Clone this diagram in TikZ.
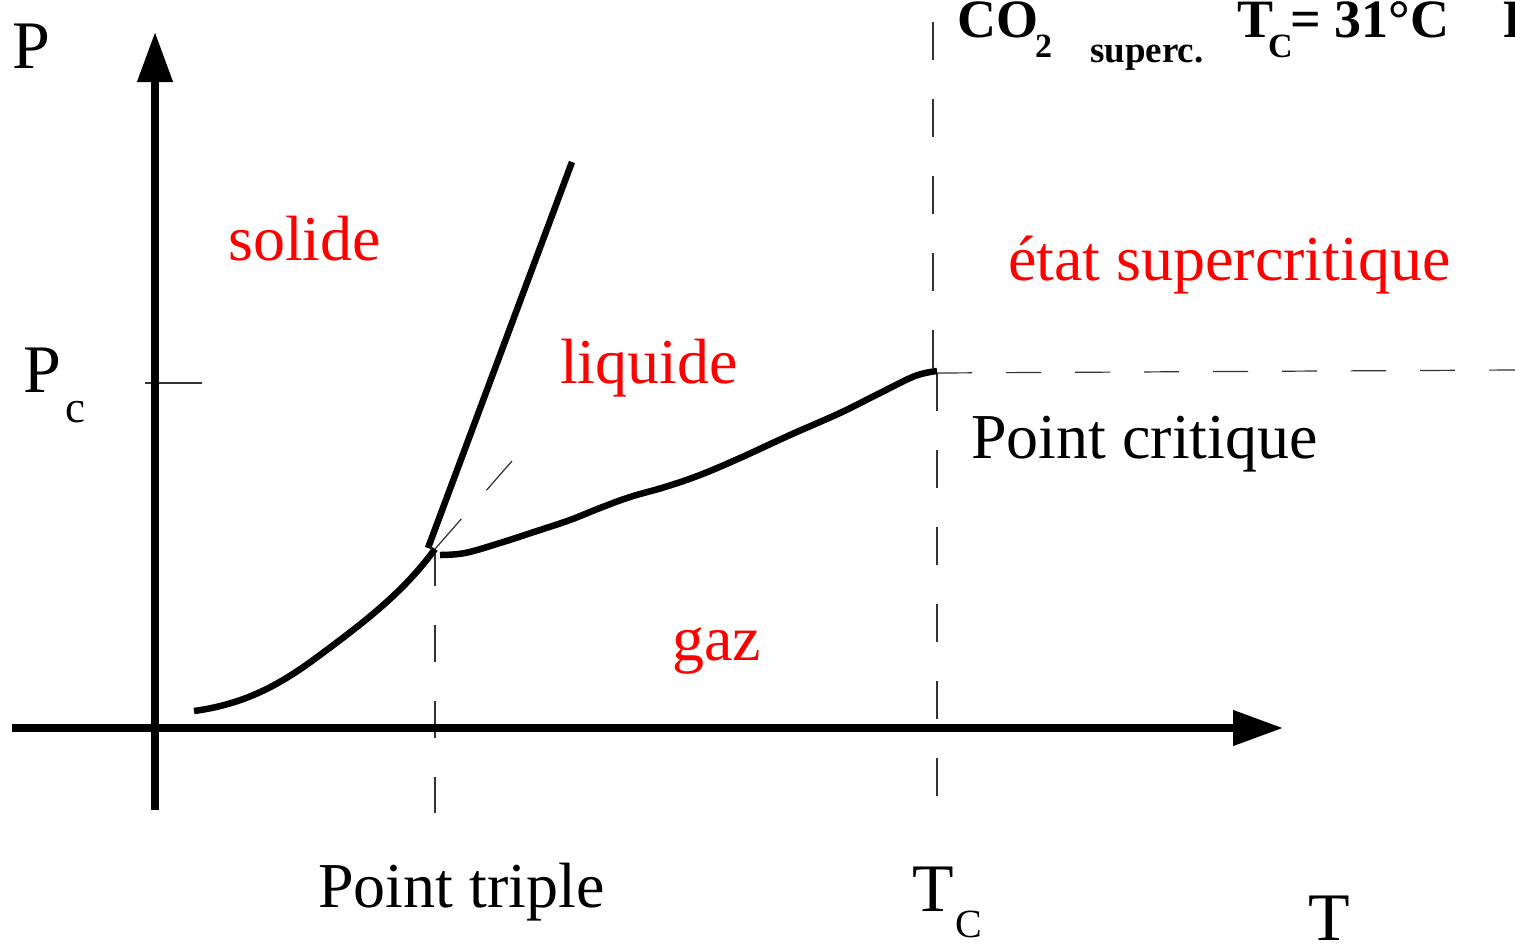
\documentclass[tikz,border=0pt]{standalone}
\usepackage{fontspec}
\setmainfont{Liberation Serif}
\usetikzlibrary{arrows.meta}
\begin{document}
\begin{tikzpicture}[x=1pt,y=-1pt,
  axis/.style={line width=7.5pt,-{Triangle[length=50pt,width=34pt]}},
  phase/.style={line width=6.5pt,line join=round},
  guide/.style={line width=1.2pt,black!80},
  lbl/.style={inner sep=0pt,anchor=base west,font=\fontsize{64}{64}\selectfont},
  big/.style={inner sep=0pt,anchor=base west,font=\fontsize{68}{68}\selectfont},
  region/.style={lbl,text=red},
  ttl/.style={inner sep=0pt,anchor=base west,font=\bfseries\fontsize{54}{54}\selectfont},
  ttlsub/.style={inner sep=0pt,anchor=base west,font=\bfseries\fontsize{34}{34}\selectfont},
]
\useasboundingbox (0,0) rectangle (1515,946);
\clip (0,0) rectangle (1515,946);
% key points
\coordinate (TP) at (435,549);
\coordinate (CP) at (937,371);
\coordinate (yB) at (155,810);
\coordinate (yT) at (155,32);
\coordinate (xL) at (12,728);
\coordinate (xR) at (1283,728);
% guide lines
\draw[guide,dash pattern=on 40pt off 38pt] (TP) -- (512,461);
\draw[guide,dash pattern=on 37pt off 39pt] (TP) -- (435,813);
\draw[guide,dash pattern=on 38pt off 39pt] (933,22) -- (933,370);
\draw[guide,dash pattern=on 38pt off 39pt] (CP) ++(0,2) -- (937,800);
\draw[guide,dash pattern=on 35pt off 34pt] (CP) ++(0,2) -- (1515,370);
\draw[guide] (145,383) -- (202,383);
% axes
\draw[axis] (yB) -- (yT);
\draw[axis] (xL) -- (xR);
% phase boundaries
\draw[phase] (194,711) .. controls (245,704) and (280,685) .. (320,655)
  .. controls (370,618) and (405,590) .. (TP);
\draw[phase] (428,548) -- (572,162);
\draw[phase] plot[smooth,tension=0.6] coordinates {(440,555) (465,553) (500,543) (540,530) (570,520) (600,508) (630,497) (665,487) (700,475) (740,458) (790,435) (840,413) (880,393) (915,376) (CP)};
% labels
\node[big] (Plab) at (12,68) {P};
\node[big] (Pc) at (23,392) {P};
\node[inner sep=0pt,anchor=base west,font=\fontsize{45}{45}\selectfont] (Pcsub) at (65,422) {c};
\node[region] (solide) at (228,260) {solide};
\node[region] (liquide) at (560,383) {liquide};
\node[region] (gaz) at (672,660) {gaz};
\node[region] (superc) at (1008,280) {état supercritique};
\node[lbl] (pcrit) at (971,458) {Point critique};
\node[lbl] (ptrip) at (318,907) {Point triple};
\node[big] (Tc) at (912,911) {T};
\node[inner sep=0pt,anchor=base west,font=\fontsize{40}{40}\selectfont] (Tcsub) at (955,937) {C};
\node[big] (Tlab) at (1308,940) {T};
% title
\node[ttl] (co) at (957,37) {CO};
\node[ttlsub] (two) at (1035,57) {2};
\node[inner sep=0pt,anchor=base west,font=\bfseries\fontsize{37}{37}\selectfont] (sc) at (1090,62) {superc.};
\node[ttl] (tt) at (1237,37) {T};
\node[ttlsub] (tcs) at (1268,57) {C};
\node[ttl] (eq) at (1290,37) {= 31°C};
\node[ttl] (pp) at (1503,37) {P};
\end{tikzpicture}
\end{document}
